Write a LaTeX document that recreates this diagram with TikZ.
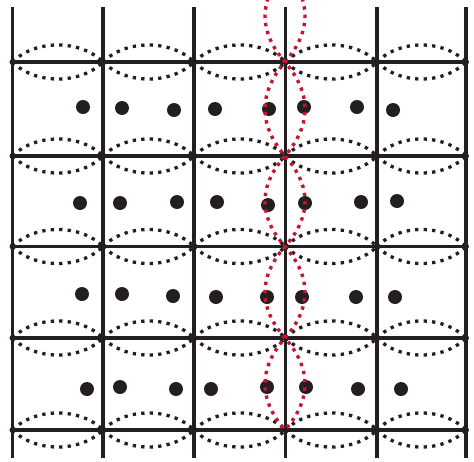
\documentclass[tikz,border=0pt]{standalone}
\definecolor{ink}{RGB}{35,31,32}
\definecolor{crim}{RGB}{196,22,50}
\begin{document}
\begin{tikzpicture}[x=1pt,y=-1pt,
  gridline/.style={line width=3.2pt, draw=ink},
  blackdots/.style={line width=3.3pt, draw=ink, dash pattern=on 3.3pt off 5.2pt},
  reddots/.style={line width=3.4pt, draw=crim, dash pattern=on 3.4pt off 4.9pt},
  atom/.style={circle, fill=ink, inner sep=0pt, minimum size=14pt},
  vert/.style={circle, fill=ink, inner sep=0pt, minimum size=6pt}]
\useasboundingbox (0,0) rectangle (474,461);
% grid coordinates
\foreach \i/\x in {0/12.5,1/103,2/194,3/285.5,4/377,5/466}{
  \coordinate (t-\i) at (\x,7);
  \coordinate (b-\i) at (\x,458);
  \foreach \j/\y in {1/62,2/156,3/246.5,4/338,5/430}{
    \coordinate (v-\i-\j) at (\x,\y);
  }
}
% vertical lines
\foreach \i in {0,...,5}{
  \draw[gridline] (t-\i) -- (b-\i);
}
% horizontal lines
\foreach \j in {1,...,5}{
  \draw[gridline] (v-0-\j) -- (v-5-\j);
  \foreach \i in {0,...,5}{
    \node[vert] (n-\i-\j) at (v-\i-\j) {};
  }
}
% lens arcs
\foreach \j in {1,...,5}{
  \foreach \i [evaluate=\i as \k using int(\i+1)] in {0,...,4}{
    \draw[blackdots] (v-\i-\j) .. controls +(22.5,-22.7) and +(-22.5,-22.7) .. (v-\k-\j);
    \draw[blackdots] (v-\i-\j) .. controls +(22.5,22.7) and +(-22.5,22.7) .. (v-\k-\j);
  }
}
% atoms
\foreach \n/\x/\y in {
  a1/83/107, a2/122/108, a3/174/110, a4/215/109, a5/269/109, a6/304/107, a7/357/107, a8/393/110,
  b1/80/203, b2/120/203, b3/177/202, b4/217/202, b5/268/205, b6/305/203, b7/361/202, b8/397/201,
  c1/82/294, c2/122/294, c3/173/296, c4/216/297, c5/267/297, c6/302/297, c7/356/297, c8/395/297,
  d1/87/389, d2/120/387, d3/176/389, d4/211/389, d5/267/387, d6/306/387, d7/358/389, d8/401/389}{
  \node[atom] (\n) at (\x,\y) {};
}
% red curves
\coordinate (c0) at (285,-30);
\coordinate (c1) at (285,62);
\coordinate (c2) at (285,156);
\coordinate (c3) at (285,246.5);
\coordinate (c4) at (285,338);
\coordinate (c5) at (285,430);
\begin{scope}
\clip (0,0) rectangle (474,461);
\draw[reddots] (c0) .. controls +(-26.7,30.7) and +(-26.7,-30.7) .. (c1)
  .. controls +(-26.7,31.3) and +(-26.7,-31.3) .. (c2)
  .. controls +(-26.7,30.2) and +(-26.7,-30.2) .. (c3)
  .. controls +(-26.7,30.5) and +(-26.7,-30.5) .. (c4)
  .. controls +(-26.7,30.7) and +(-26.7,-30.7) .. (c5);
\draw[reddots] (c0) .. controls +(26.7,30.7) and +(26.7,-30.7) .. (c1)
  .. controls +(26.7,31.3) and +(26.7,-31.3) .. (c2)
  .. controls +(26.7,30.2) and +(26.7,-30.2) .. (c3)
  .. controls +(26.7,30.5) and +(26.7,-30.5) .. (c4)
  .. controls +(26.7,30.7) and +(26.7,-30.7) .. (c5);
\end{scope}
\end{tikzpicture}
\end{document}
